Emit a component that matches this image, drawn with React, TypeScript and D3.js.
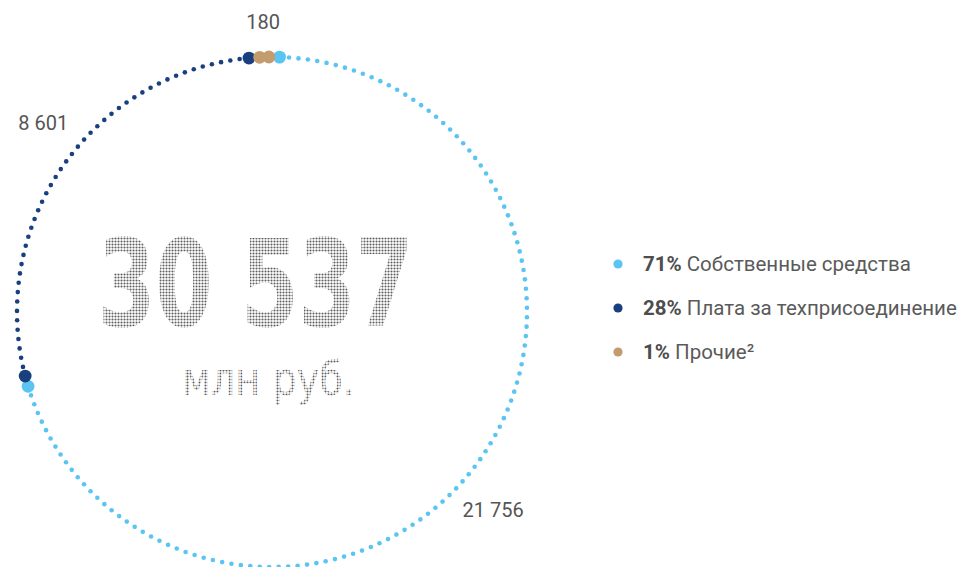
import React, { useRef, useEffect } from 'react';
import * as d3 from 'd3';

const categories = ['Собственные средства', 'Плата за техприсоединение', 'Прочие²'];
const values = [21756, 8601, 180];
const colors = ['#5bc5f2', '#1a3f7f', '#c49b6d'];
const unitLabel = 'млн руб.';

const App = () => {
  const ref = useRef(null);

  useEffect(() => {
    if (!ref.current) return;
    d3.select(ref.current).selectAll('*').remove();

    const width = 963;
    const height = 567;
    const cx = 272;
    const cy = 312;
    const radius = 255;
    const deg = Math.PI / 180;
    const pad = 2.4 * deg;
    const start = 0.5 * deg;
    const step = 9.5;

    const ru = d3.formatLocale({ decimal: ',', thousands: ' ', grouping: [3], currency: ['', ''] });
    const fmt = ru.format(',');
    const pct = d3.format('.0%');
    const total = d3.sum(values);

    const data = categories.map((c, i) => ({ name: c, value: values[i], color: colors[i] }));

    const svg = d3.select(ref.current)
      .append('svg')
        .attr('width', width)
        .attr('height', height)
        .style('position', 'absolute')
        .style('left', 0)
        .style('top', 0)
        .style('font-family', 'Roboto, "DejaVu Sans", sans-serif');

    const defs = svg.append('defs');
    const pattern = defs.append('pattern')
      .attr('id', 'halftone')
      .attr('patternUnits', 'userSpaceOnUse')
      .attr('width', 3)
      .attr('height', 3);
    pattern.append('circle')
      .attr('cx', 1.5)
      .attr('cy', 1.5)
      .attr('r', 1.05)
      .attr('fill', '#5e5e5e');

    const g = svg.append('g').attr('transform', `translate(${cx},${cy})`);

    const pie = d3.pie()
      .value(d => d.value)
      .sort(null)
      .startAngle(start)
      .endAngle(start + 2 * Math.PI)
      .padAngle(pad);

    const arcs = pie(data);

    // dotted ring: small dots between, big dots at segment ends
    arcs.forEach(a => {
      const a0 = a.startAngle + pad / 2;
      const a1 = a.endAngle - pad / 2;
      const n = Math.max(1, Math.round(((a1 - a0) * radius) / step));
      const small = d3.range(1, n).map(i => a0 + ((a1 - a0) * i) / n);
      g.append('g').selectAll('circle')
        .data(small)
        .join('circle')
          .attr('cx', t => d3.pointRadial(t, radius)[0])
          .attr('cy', t => d3.pointRadial(t, radius)[1])
          .attr('r', 2.3)
          .attr('fill', a.data.color);
      g.append('g').selectAll('circle')
        .data([a0, a1])
        .join('circle')
          .attr('cx', t => d3.pointRadial(t, radius)[0])
          .attr('cy', t => d3.pointRadial(t, radius)[1])
          .attr('r', 6.4)
          .attr('fill', a.data.color);
    });

    // value labels outside the ring, nudged clockwise on the big segments
    const labelAngle = d => (d.startAngle + d.endAngle) / 2 + (d.endAngle - d.startAngle > 0.5 ? 4.5 * deg : 0);
    const labelRadius = d => (d.endAngle - d.startAngle > 0.5 ? 297 : 290);
    g.selectAll('text.val')
      .data(arcs)
      .join('text')
        .attr('class', 'val')
        .attr('x', d => d3.pointRadial(labelAngle(d), labelRadius(d))[0])
        .attr('y', d => d3.pointRadial(labelAngle(d), labelRadius(d))[1])
        .attr('dy', '0.35em')
        .attr('text-anchor', 'middle')
        .attr('font-size', 20)
        .attr('fill', '#555')
        .text(d => fmt(d.data.value));

    // centre total
    svg.append('text')
      .attr('x', 98)
      .attr('y', 326)
      .attr('font-family', '"Liberation Sans Narrow", "DejaVu Sans Condensed", sans-serif')
      .attr('font-weight', 'bold')
      .attr('font-size', 122)
      .attr('textLength', 315)
      .attr('lengthAdjust', 'spacingAndGlyphs')
      .attr('fill', 'url(#halftone)')
      .text(fmt(total));

    svg.append('text')
      .attr('x', 182)
      .attr('y', 395)
      .attr('font-family', '"Liberation Sans Narrow", "DejaVu Sans Condensed", sans-serif')
      .attr('font-size', 47)
      .attr('textLength', 173)
      .attr('lengthAdjust', 'spacingAndGlyphs')
      .attr('fill', 'url(#halftone)')
      .text(unitLabel);

    // legend
    const legend = svg.append('g').attr('transform', 'translate(618,264)');
    const rows = legend.selectAll('g')
      .data(data)
      .join('g')
        .attr('transform', (d, i) => `translate(0,${i * 44})`);
    rows.append('circle')
      .attr('r', 4.6)
      .attr('fill', d => d.color);
    const label = rows.append('text')
      .attr('x', 25)
      .attr('dy', '0.35em')
      .attr('font-size', 20.5)
      .attr('fill', '#5a5a5a');
    label.append('tspan')
      .attr('font-weight', 'bold')
      .attr('fill', '#4d4d4d')
      .text(d => pct(d.value / total));
    label.append('tspan')
      .text(d => ' ' + d.name);
  }, []);

  return <div ref={ref} />;
};

export default App;
